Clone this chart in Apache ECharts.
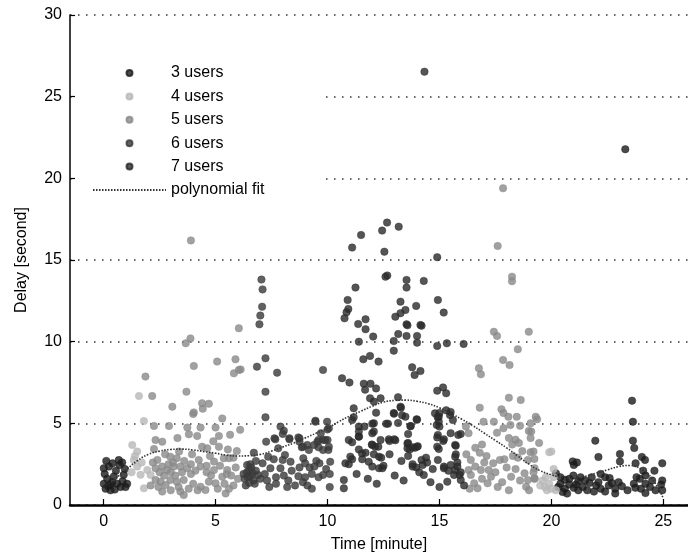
<!DOCTYPE html>
<html>
<head>
<meta charset="utf-8">
<script src="https://cdn.jsdelivr.net/npm/echarts@6/dist/echarts.min.js"></script>
<style>html,body{margin:0;padding:0;background:#fff}#c{width:688px;height:558px}</style>
</head>
<body>
<div id="c"></div>
<script>
const seriesNames = ['3 users','4 users','5 users','6 users','7 users','polynomial fit'];
const xTicks = [0,5,10,15,20,25];
const yTicks = [0,5,10,15,20,25,30];

const users3 = [[0.01,2.25],[0.24,2.35],[0.68,2.75],[0.83,2.6],[0.9,1.85],[0.46,1.75],[0.16,1.6],[0.01,1.3],[0.09,1.0],[0.31,0.9],[0.61,1.3],[0.76,1.1],[0.98,1.1],[0.38,1.4],[0.2,1.15],[0.55,2.1],[0.72,2.45],[0.05,1.9],[0.3,1.25],[0.5,0.95],[0.85,1.45],[1.05,1.3],[0.12,2.7],[0.95,2.2],[0.4,2.55],
[23.6,6.39],[23.64,5.1],[21.96,3.94],[23.64,3.94],[23.7,3.49],[22.1,2.94],[23.06,3.12],[20.95,2.67],[21.0,2.45],[23.06,2.67],[24.04,2.94],[24.18,2.76],[23.76,2.55],[24.95,2.55],[20.2,1.94],[20.98,1.8],[20.8,1.6],[22.2,1.9],[22.4,1.7],[22.6,1.65],[21.8,1.7],[24.1,2.1],[24.2,1.8],[23.8,1.7],[24.95,1.5],[24.9,1.25],[20.4,1.3],[20.6,1.0],[20.8,1.25],[21.1,1.25],[21.4,1.1],[21.7,1.35],[21.6,0.9],[22.0,1.2],[22.2,1.0],[22.56,1.2],[22.85,1.0],[22.85,0.71],[23.15,1.15],[23.68,1.3],[23.75,1.05],[24.2,1.3],[24.2,0.73],[24.4,1.1],[24.65,0.9],[24.95,0.9],[20.5,0.8],[21.2,0.9],[21.9,0.82],[22.4,0.82],[20.6,1.55],[21.2,1.45],[23.3,21.78],[21.14,2.6],[20.3,1.1],[21.0,1.05],[21.5,1.5],[22.1,1.4],[23.0,1.4],[23.4,0.9],[24.5,1.5],[20.7,0.7],[22.7,1.35],[24.0,1.0],[23.95,1.6],[24.6,2.1],[21.3,1.7],[20.4,1.7]];

const users4 = [[1.28,3.67],[1.5,3.27],[1.35,2.75],[1.5,2.35],[1.65,1.85],[1.8,1.02],[1.95,2.14],[2.1,1.84],[1.58,6.67],[1.8,5.14],[19.6,1.5],[19.9,1.3],[20.2,0.9],[19.8,0.9],[20.1,1.7],[19.7,1.1],[20.0,1.0],[19.5,1.2],[20.1,2.2],[20.0,3.27],[19.9,3.23],[1.4,3.0],[1.7,2.6],[1.25,2.0],[19.75,1.7]];

const users5 = [[1.87,7.86],[2.17,6.67],[3.07,6.02],[3.7,6.94],[4.03,8.51],[4.4,6.23],[4.43,5.9],[4.03,5.67],[5.07,8.78],[2.25,4.84],[2.92,4.84],[3.74,4.74],[4.33,4.74],[5.0,4.74],[3.81,4.33],[4.18,4.23],[2.32,3.98],[2.62,3.88],[2.25,3.43],[3.37,3.27],[4.4,3.57],[4.63,3.47],[5.15,4.23],[5.15,3.57],[2.4,2.76],[2.98,2.96],[3.27,2.86],[2.32,2.25],[2.62,2.35],[2.83,2.14],[3.13,2.35],[3.43,2.35],[3.73,2.25],[4.25,2.76],[4.33,2.35],[4.93,2.66],[4.93,2.14],[5.37,2.86],[5.52,2.14],[2.32,1.53],[2.55,1.43],[2.77,1.22],[2.98,1.53],[3.27,1.43],[3.58,1.53],[2.62,0.82],[3.43,0.82],[3.58,0.61],[4.33,1.12],[4.7,1.43],[4.55,0.92],[5.0,1.33],[5.3,1.73],[5.45,0.71],[6.04,10.82],[3.88,10.2],[3.67,9.9],[3.9,16.2],[5.89,8.92],[5.82,8.06],[6.12,8.3],[4.0,5.57],[6.04,8.27],[5.6,2.86],[5.5,1.9],[5.7,1.8],[5.8,1.2],[5.6,1.0],[5.8,2.9],
[2.5,2.0],[2.7,1.8],[3.0,2.0],[3.2,1.8],[3.5,2.0],[3.9,1.9],[4.1,2.1],[4.6,2.0],[4.8,1.8],[3.1,2.6],[3.6,2.7],[3.9,2.5],[4.6,2.4],[5.2,2.4],[2.2,2.6],[2.9,2.5],[3.35,1.1],[4.0,1.3],[4.2,0.9],[5.1,1.0],[5.4,1.3],[2.1,1.2],[2.45,1.1],[3.0,0.9],[3.8,1.0],[4.75,3.0],[3.95,3.1],[2.75,3.1],[5.55,3.4],[5.9,2.3],[6.0,1.6],[5.95,3.3],[4.9,3.9],[5.3,5.3],[5.65,4.3],[6.1,4.6],[4.7,6.2],[3.3,4.1],
[17.84,19.39],[17.6,15.86],[18.24,13.98],[18.24,13.7],[17.43,10.61],[17.57,10.35],[18.99,10.61],[18.5,9.53],[17.84,8.88],[18.13,8.57],[16.76,8.37],[16.85,8.0],[18.1,6.57],[18.63,6.43],[16.8,5.96],[17.77,5.86],[17.86,5.63],[18.08,5.4],[18.45,5.4],[19.3,5.4],[19.36,5.25],[16.18,4.8],[16.3,4.4],[16.97,5.1],[17.43,5.1],[18.17,4.9],[18.6,4.85],[19.07,5.0],[17.86,4.7],[17.57,4.43],[18.99,4.53],[19.07,4.1],[18.1,4.1],[18.4,4.0],[18.25,3.7],[18.55,3.8],[19.45,3.8],[16.6,3.5],[16.8,3.2],[16.9,3.7],[18.7,3.3],[19.07,3.23],[19.2,3.27],[17.7,2.76],[17.9,2.8],[17.4,2.55],[18.28,3.0],[18.5,2.9],[18.95,2.76],[16.4,2.76],[16.6,2.35],[16.85,2.14],[17.2,2.14],[16.3,2.14],[17.3,1.73],[17.15,1.33],[16.55,1.33],[16.7,1.02],[16.4,1.84],[18.2,1.73],[18.8,1.94],[18.95,1.53],[19.25,1.63],[18.87,1.12],[19.25,2.25],[19.1,4.5],[19.24,2.82],[19.2,2.0],[19.24,1.6],[16.2,3.1],[17.0,2.6],[17.5,2.0],[17.8,1.4],[18.0,2.3],[18.4,2.2],[18.6,1.5],[19.0,0.9],[16.9,1.6],[17.6,1.1],[16.35,1.0],[17.1,3.0],[18.1,0.9]];

const users6 = [[7.08,12.14],[7.0,11.6],[6.96,11.06],[7.05,13.8],[7.1,13.2],[7.23,8.98],[6.85,8.47],[7.75,8.1],[7.23,6.93],[7.23,5.37],[9.8,8.27],
[7.9,4.8],[8.05,4.55],[8.0,4.35],[9.46,5.1],[9.98,5.1],[10.0,4.63],[7.26,3.88],[7.67,4.02],[8.3,4.02],[8.7,4.14],[8.75,3.88],[8.85,3.53],[9.1,3.67],[9.4,3.67],[9.6,3.98],[9.8,3.98],[10.0,3.98],[9.6,3.53],[9.8,3.37],[10.04,3.37],[7.8,3.47],[7.35,2.96],[7.6,2.8],[8.1,3.06],[8.0,2.76],[6.71,3.2],[6.41,2.45],[7.1,2.55],[7.45,2.25],[7.9,2.25],[8.35,2.65],[8.92,2.86],[9.0,2.55],[8.75,2.3],[9.2,2.3],[9.42,2.35],[9.64,2.55],[10.12,2.65],[9.94,2.2],[9.8,1.84],[10.1,1.9],[9.6,1.7],[9.3,1.9],[9.0,1.7],[8.7,1.76],[8.55,1.2],[8.25,1.5],[8.05,1.8],[7.7,1.7],[7.7,1.3],[7.4,1.1],[6.5,2.14],[6.56,1.76],[6.5,1.35],[6.9,1.84],[9.3,1.0],[10.1,1.1],[8.9,1.4],[7.63,4.08],[8.3,4.08],[8.75,4.08],[8.9,3.57],[9.46,5.16],[10.06,4.7],[9.7,4.39],[9.55,3.88],[9.9,3.98],[10.06,3.57],[9.17,3.37],[6.3,1.6],[6.4,2.0],[6.6,2.3],[6.7,1.5],[6.8,2.1],[6.35,1.2],[6.55,2.5],[6.25,1.9],[6.45,1.7],[6.65,1.95],[6.75,1.3],[7.0,1.6],[7.2,1.9],[7.3,1.5],[8.4,2.1],[8.2,1.1],[9.1,1.2],[9.5,2.7],[6.8,2.7]];

const users7 = [[12.66,17.29],[13.18,17.04],[12.44,16.8],[11.5,16.53],[11.1,15.76],[12.54,15.51],[14.9,15.17],[12.59,13.98],[12.67,14.05],[11.25,13.31],[13.53,13.78],[13.53,13.31],[14.3,13.72],[10.9,12.55],[10.85,11.8],[10.76,11.43],[10.93,12.0],[13.26,12.45],[13.48,11.94],[13.26,11.74],[13.03,11.53],[13.96,12.19],[14.93,12.55],[15.19,11.78],[11.37,11.08],[11.7,11.37],[11.7,10.76],[13.53,11.06],[14.15,11.02],[12.04,10.31],[11.4,10.0],[12.96,10.04],[13.16,10.47],[13.53,10.35],[14.0,10.35],[14.0,9.94],[12.96,9.45],[14.9,9.74],[15.33,9.9],[16.08,9.86],[11.6,8.92],[11.9,9.13],[12.28,8.78],[13.78,8.43],[13.89,7.96],[14.15,8.2],[10.65,7.76],[10.98,7.5],[11.62,7.43],[11.92,7.43],[12.17,7.14],[12.37,6.53],[12.07,6.33],[14.9,7.0],[15.16,7.2],[15.3,6.84],[13.15,6.6],[11.17,5.92],[12.17,5.65],[13.28,5.96],[13.48,5.41],[13.98,5.25],[14.8,5.61],[14.92,5.37],[14.88,4.9],[15.47,5.51],[15.6,5.2],[11.17,5.37],[11.65,4.8],[11.4,4.8],[11.1,5.2],[12.0,4.98],[11.4,4.18],[12.0,4.39],[12.7,4.98],[12.97,5.59],[13.72,4.84],[12.37,3.98],[12.74,4.02],[12.98,4.02],[13.57,3.77],[13.8,3.53],[14.0,3.57],[14.93,4.29],[15.2,4.02],[14.9,3.57],[15.7,3.68],[15.84,4.29],[10.8,2.55],[11.02,2.96],[11.54,3.16],[11.84,2.65],[12.0,3.67],[12.13,3.57],[12.3,2.96],[12.0,2.35],[12.3,2.25],[13.57,3.47],[14.2,2.76],[13.8,2.35],[14.25,2.45],[14.93,2.76],[15.2,2.25],[15.5,2.45],[15.7,2.96],[15.7,2.14],[15.9,1.84],[14.33,26.53],[13.57,11.0],[14.2,10.98],[10.95,3.98],[11.1,3.84],[11.4,4.2],[11.4,3.4],[11.7,3.2],[11.98,3.7],[12.27,3.57],[12.07,3.1],[12.4,2.9],[11.1,2.8],[11.55,2.8],[10.95,2.5],[12.45,2.25],[11.4,4.5],[12.07,4.5],[12.07,5.0],[11.68,7.06],[11.9,6.53],[13.26,6.02],[12.96,5.63],[13.33,5.49],[14.0,5.22],[13.7,4.82],[13.15,5.02],[12.62,4.98],[15.0,5.63],[14.97,5.4],[14.97,5.1],[15.0,4.8],[15.3,5.8],[15.5,5.7],[15.5,4.4],[15.95,4.35],[13.6,4.35],[12.77,3.92],[13.03,3.96],[13.6,3.8],[13.67,3.4],[13.9,3.5],[14.03,3.6],[14.9,4.14],[14.97,3.43],[15.17,3.92],[12.77,3.1],[13.6,3.0],[13.3,2.7],[13.8,2.5],[13.97,2.3],[14.1,2.0],[14.3,1.84],[14.4,2.9],[14.45,2.6],[12.5,2.4],[15.2,2.35],[15.4,2.1],[15.73,3.63],[15.73,3.1],[15.8,2.6],[15.8,2.35],[15.95,2.0],[15.65,1.84],[15.95,1.53],[16.1,1.2],[15.35,1.43],[10.73,1.53],[10.73,1.02],[11.3,1.9],[11.8,1.6],[12.2,1.3],[13.0,1.8],[13.4,1.5],[14.6,1.4],[15.0,1.1],[14.7,2.2]];

const fitX = [0,0.5,1,1.5,2,2.5,3,3.5,4,4.5,5,5.5,6,6.5,7,7.5,8,8.5,9,9.5,10,10.5,11,11.5,12,12.5,13,13.5,14,14.5,15,15.5,16,16.5,17,17.5,18,18.5,19,19.5,20,20.5,21,21.5,22,22.5,23,23.5,24,24.5,25];
const fitY = [1.1,1.6,2.15,2.7,3.1,3.3,3.4,3.42,3.37,3.27,3.17,3.05,3.0,3.02,3.1,3.3,3.55,3.8,4.1,4.4,4.7,5.1,5.45,5.75,6.05,6.3,6.4,6.42,6.35,6.2,5.95,5.6,5.25,4.85,4.4,3.95,3.5,3.0,2.5,2.1,1.85,1.7,1.65,1.75,1.95,2.15,2.35,2.42,2.2,1.6,0.4];

const colors = ['#1c1c1c','#b8b8b8','#8a8a8a','#3a3a3a','#2a2a2a','#333333'];
const font = "'Liberation Sans', Arial, sans-serif";
const chart = echarts.init(document.getElementById('c'), null, {renderer:'canvas'});

function scatter(name, data, color){
  return {name, type:'scatter', data, symbol:'circle', symbolSize:7.5,
    itemStyle:{color, borderColor: color, borderWidth:0.5}, z:3};
}

chart.setOption({
  animation:false,
  backgroundColor:'#fff',
  textStyle:{fontFamily:font},
  grid:{left:70, right:0, top:15, bottom:53},
  legend:{
    orient:'vertical', left:77, top:60,
    padding:[5,58,5,15],
    backgroundColor:'#fff',
    itemWidth:73, itemHeight:6, itemGap:7.4,
    textStyle:{fontSize:16, color:'#000', fontFamily:font},
    data:[seriesNames[0],seriesNames[1],seriesNames[2],seriesNames[3],seriesNames[4],
          {name:seriesNames[5], itemStyle:{opacity:0}}],
    z:5
  },
  xAxis:{
    type:'value', min:-1.5, max:26.1,
    name:'Time [minute]', nameLocation:'middle', nameGap:32,
    nameTextStyle:{fontSize:16, color:'#000'},
    axisLine:{onZero:false, lineStyle:{color:'#000', width:2.5}},
    axisTick:{inside:true, length:6, customValues:xTicks, lineStyle:{color:'#000', width:1.2}},
    axisLabel:{customValues:xTicks, fontSize:16, color:'#000', margin:9},
    splitLine:{show:false}
  },
  yAxis:{
    type:'value', min:0, max:30, interval:5,
    name:'Delay [second]', nameLocation:'middle', nameGap:40, nameRotate:90,
    nameTextStyle:{fontSize:16, color:'#000'},
    axisLine:{show:true, onZero:false, lineStyle:{color:'#000', width:1.5}},
    axisTick:{show:true, inside:true, length:5, lineStyle:{color:'#000', width:1.2}},
    axisLabel:{fontSize:16, color:'#000', margin:8, customValues:yTicks},
    splitLine:{show:true, lineStyle:{color:'#333', width:1.5, type:[1.5,6.5]}}
  },
  series:[
    scatter(seriesNames[0], users3, colors[0]),
    scatter(seriesNames[1], users4, colors[1]),
    scatter(seriesNames[2], users5, colors[2]),
    scatter(seriesNames[3], users6, colors[3]),
    scatter(seriesNames[4], users7, colors[4]),
    {name:seriesNames[5], type:'line', smooth:true, symbol:'none', z:4,
     data: fitX.map((x,i)=>[x, fitY[i]]),
     lineStyle:{color:colors[5], width:1.6, type:[1.5,1.5]},
     itemStyle:{color:colors[5]}}
  ]
});
</script>
</body>
</html>
